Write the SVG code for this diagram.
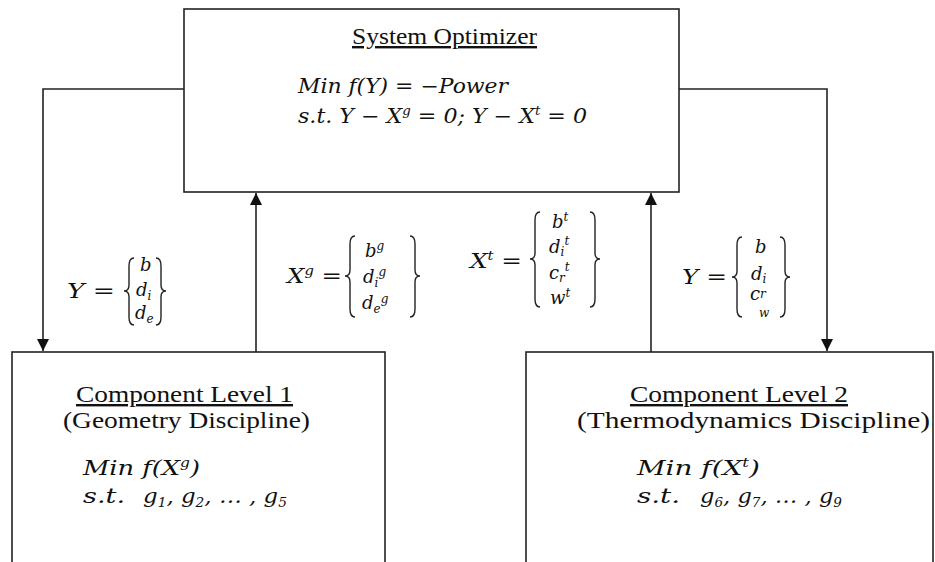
<svg xmlns="http://www.w3.org/2000/svg" width="935" height="562" viewBox="0 0 935 562">
<style>
.box{fill:#fff;stroke:#222;stroke-width:1.6}
.ln{fill:none;stroke:#222;stroke-width:1.6}
.br{fill:none;stroke:#222;stroke-width:1.4}
.ttl{font-family:"Liberation Serif","Times New Roman",Times,serif;font-size:24px;fill:#111}
.m{font-family:"DejaVu Serif",serif;font-style:italic;font-size:20px;fill:#111}
.e{font-size:18px}
.s{font-size:12px}
</style>
<defs>
<marker id="ah" markerUnits="userSpaceOnUse" markerWidth="12" markerHeight="12" viewBox="0 0 12 12" refX="12" refY="6" orient="auto">
<path d="M0,0 L12,6 L0,12 Z" fill="#111"/>
</marker>
</defs>
<rect width="935" height="562" fill="#fff"/>
<g id="connectors">
<path class="ln" d="M184,89 H43 V351" marker-end="url(#ah)"/>
<path class="ln" d="M256,352 V193" marker-end="url(#ah)"/>
<path class="ln" d="M651,352 V193" marker-end="url(#ah)"/>
<path class="ln" d="M679,89 H827 V351" marker-end="url(#ah)"/>
</g>
<g id="system-optimizer">
<rect class="box" x="184" y="9" width="495" height="183"/>
<text class="ttl" x="352" y="44" textLength="185" lengthAdjust="spacingAndGlyphs" text-decoration="underline">System Optimizer</text>
<text class="m" x="298" y="93" textLength="210" lengthAdjust="spacingAndGlyphs">Min f(Y) = −Power</text>
<text class="m" x="298" y="123" textLength="289" lengthAdjust="spacingAndGlyphs">s.t. Y − X<tspan class="s" dy="-8">g</tspan><tspan dy="8"> = 0; Y − X</tspan><tspan class="s" dy="-8">t</tspan><tspan dy="8"> = 0</tspan></text>
</g>
<g id="component-level-1">
<rect class="box" x="12" y="352" width="373" height="230"/>
<text class="ttl" x="76" y="402" textLength="217" lengthAdjust="spacingAndGlyphs" text-decoration="underline">Component Level 1</text>
<text class="ttl" x="63" y="428" textLength="247" lengthAdjust="spacingAndGlyphs">(Geometry Discipline)</text>
<text class="m" x="83" y="475" textLength="117" lengthAdjust="spacingAndGlyphs">Min f(X<tspan class="s" dy="-8">g</tspan><tspan dy="8">)</tspan></text>
<text class="m" x="83" y="503" textLength="42" lengthAdjust="spacingAndGlyphs">s.t.</text>
<text class="m" x="143" y="503" textLength="144" lengthAdjust="spacingAndGlyphs">g<tspan class="s" dy="4">1</tspan><tspan dy="-4">, g</tspan><tspan class="s" dy="4">2</tspan><tspan dy="-4">, … , g</tspan><tspan class="s" dy="4">5</tspan></text>
</g>
<g id="component-level-2">
<rect class="box" x="526" y="352" width="407" height="230"/>
<text class="ttl" x="630" y="402" textLength="218" lengthAdjust="spacingAndGlyphs" text-decoration="underline">Component Level 2</text>
<text class="ttl" x="577" y="428" textLength="353" lengthAdjust="spacingAndGlyphs">(Thermodynamics Discipline)</text>
<text class="m" x="637" y="475" textLength="123" lengthAdjust="spacingAndGlyphs">Min f(X<tspan class="s" dy="-8">t</tspan><tspan dy="8">)</tspan></text>
<text class="m" x="637" y="503" textLength="43" lengthAdjust="spacingAndGlyphs">s.t.</text>
<text class="m" x="700" y="503" textLength="142" lengthAdjust="spacingAndGlyphs">g<tspan class="s" dy="4">6</tspan><tspan dy="-4">, g</tspan><tspan class="s" dy="4">7</tspan><tspan dy="-4">, … , g</tspan><tspan class="s" dy="4">9</tspan></text>
</g>
<g id="label-y-left">
<text class="m" x="67" y="298" textLength="48" lengthAdjust="spacingAndGlyphs">Y =</text>
<path class="br" d="M134,258 Q129,258 129,266 V285 Q129,291 124,291 Q129,291 129,297 V317 Q129,325 134,325"/>
<path class="br" d="M156,258 Q161,258 161,266 V285 Q161,291 166,291 Q161,291 161,297 V317 Q161,325 156,325"/>
<text class="m e" x="140" y="271">b</text>
<text class="m e" x="136" y="296">d<tspan class="s" dy="4">i</tspan></text>
<text class="m e" x="135" y="319">d<tspan class="s" dy="4">e</tspan></text>
</g>
<g id="label-xg">
<text class="m" x="287" y="283" textLength="55" lengthAdjust="spacingAndGlyphs">X<tspan class="s" dy="-8">g</tspan><tspan dy="8"> =</tspan></text>
<path class="br" d="M355,236 Q350,236 350,244 V270 Q350,276 345,276 Q350,276 350,282 V309 Q350,317 355,317"/>
<path class="br" d="M410,236 Q415,236 415,244 V270 Q415,276 420,276 Q415,276 415,282 V309 Q415,317 410,317"/>
<text class="m e" x="365" y="257">b<tspan class="s" dy="-7">g</tspan></text>
<text class="m e" x="363" y="283">d<tspan class="s" dy="4">i</tspan><tspan class="s" dy="-11">g</tspan></text>
<text class="m e" x="362" y="309">d<tspan class="s" dy="4">e</tspan><tspan class="s" dy="-10">g</tspan></text>
</g>
<g id="label-xt">
<text class="m" x="470" y="268" textLength="52" lengthAdjust="spacingAndGlyphs">X<tspan class="s" dy="-8">t</tspan><tspan dy="8"> =</tspan></text>
<path class="br" d="M540,212 Q535,212 535,220 V253 Q535,259 530,259 Q535,259 535,265 V299 Q535,307 540,307"/>
<path class="br" d="M590,212 Q595,212 595,220 V253 Q595,259 600,259 Q595,259 595,265 V299 Q595,307 590,307"/>
<text class="m e" x="552" y="228">b<tspan class="s" dy="-7">t</tspan></text>
<text class="m e" x="549" y="253">d<tspan class="s" dy="3">i</tspan><tspan class="s" dy="-11">t</tspan></text>
<text class="m e" x="549" y="279">c<tspan class="s" dy="3">r</tspan><tspan class="s" dy="-11">t</tspan></text>
<text class="m e" x="550" y="304">w<tspan class="s" dy="-7">t</tspan></text>
</g>
<g id="label-y-right">
<text class="m" x="682" y="284" textLength="45" lengthAdjust="spacingAndGlyphs">Y =</text>
<path class="br" d="M742,237 Q737,237 737,245 V271 Q737,277 732,277 Q737,277 737,283 V309 Q737,317 742,317"/>
<path class="br" d="M780,237 Q785,237 785,245 V271 Q785,277 790,277 Q785,277 785,283 V309 Q785,317 780,317"/>
<text class="m e" x="755" y="253">b</text>
<text class="m e" x="751" y="280">d<tspan class="s" dy="3">i</tspan></text>
<text class="m e" x="750" y="300">c<tspan class="s" dy="-2">r</tspan></text>
<text class="m s" x="759" y="317">w</text>
</g>
</svg>
